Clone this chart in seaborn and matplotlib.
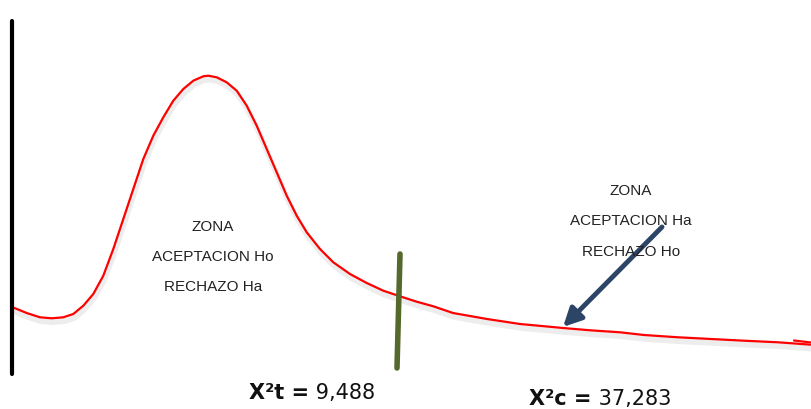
import numpy as np
import pandas as pd
import matplotlib
matplotlib.use("Agg")
import matplotlib.pyplot as plt
import seaborn as sns

# curve (pixel units, y grows downward)
curve_x = [12.7, 26.7, 40, 51.7, 63.3, 73.3, 83.3, 93.3, 103.3, 113.3, 123.3, 133.3,
           143.3, 153.3, 163.3, 173.3, 183.3, 193.3, 203.3, 208.3, 216.7, 226.7, 236.7,
           246.7, 256.7, 266.7, 276.7, 286.7, 296.7, 306.7, 320, 333.3, 350, 366.7,
           383.3, 400, 416.7, 433.3, 453, 487, 520, 563, 590, 620, 644, 678, 711,
           744, 778, 811]
curve_y = [308.3, 314, 318.3, 319.3, 318.3, 315, 306.7, 295, 276.7, 250, 220, 190,
           160, 136.7, 118.3, 101.7, 90, 81.7, 77.3, 76.7, 78.3, 83.3, 91.7,
           106.7, 126.7, 150, 173.3, 196.7, 216.7, 233.3, 250, 263.3, 275, 284,
           291.7, 297.3, 302.7, 307.3, 314, 320, 325, 329, 331.3, 333.3, 336, 338.3, 340,
           341.7, 343.3, 345.7]

left_zone = ["ZONA", "ACEPTACION Ho", "RECHAZO Ha"]
right_zone = ["ZONA", "ACEPTACION Ha", "RECHAZO Ho"]
stat_labels = [("X²t =", " 9,488"), ("X²c =", " 37,283")]

df = pd.DataFrame({"x": curve_x, "y": curve_y})

sns.set_style("white")
plt.rcParams["font.family"] = ["Liberation Sans", "DejaVu Sans"]

fig = plt.figure(figsize=(8.11, 4.10), dpi=100)
ax = fig.add_axes([0, 0, 1, 1])
ax.set_xlim(0, 811)
ax.set_ylim(410, 0)
ax.axis("off")

# faint shadow under the curve
ax.plot(df["x"] + 1, df["y"] + 4, color="#dcdcdc", lw=4, alpha=0.5,
        solid_capstyle="round", solid_joinstyle="round")
sns.lineplot(data=df, x="x", y="y", color="#ff0000", lw=1.6, ax=ax, sort=False)
ax.lines[-1].set_solid_joinstyle("round")
ax.plot([794, 811], [341.5, 343.5], color="#ff0000", lw=1.6)

# vertical axis line
ax.plot([12, 12], [22, 375], color="black", lw=3)

# critical value line
ax.plot([400, 397], [255, 369], color="#56692c", lw=4)

# arrow pointing to the tail
ax.annotate("", xy=(563, 328), xytext=(662, 228),
            arrowprops=dict(arrowstyle="-|>,head_length=1.1,head_width=0.55",
                            color="#2c4466", lw=3.5, shrinkA=0, shrinkB=0))

for i, t in enumerate(left_zone):
    ax.text(213, 227 + i * 30, t, ha="center", va="center", fontsize=11, color="#222222")
for i, t in enumerate(right_zone):
    ax.text(631, 191 + i * 30.5, t, ha="center", va="center", fontsize=11, color="#222222")

fig.canvas.draw()
renderer = fig.canvas.get_renderer()
for (bold, rest), (x0, y0) in zip(stat_labels, [(249, 393), (529, 399)]):
    tb = ax.text(x0, y0, bold, ha="left", va="center", fontsize=15,
                 fontweight="bold", family=["DejaVu Sans"], color="#111111")
    bb = tb.get_window_extent(renderer)
    x1 = ax.transData.inverted().transform((bb.x1, bb.y0))[0]
    ax.text(x1, y0, rest, ha="left", va="center", fontsize=15,
            family=["DejaVu Sans"], color="#111111")

plt.savefig("out.png", dpi=100)
